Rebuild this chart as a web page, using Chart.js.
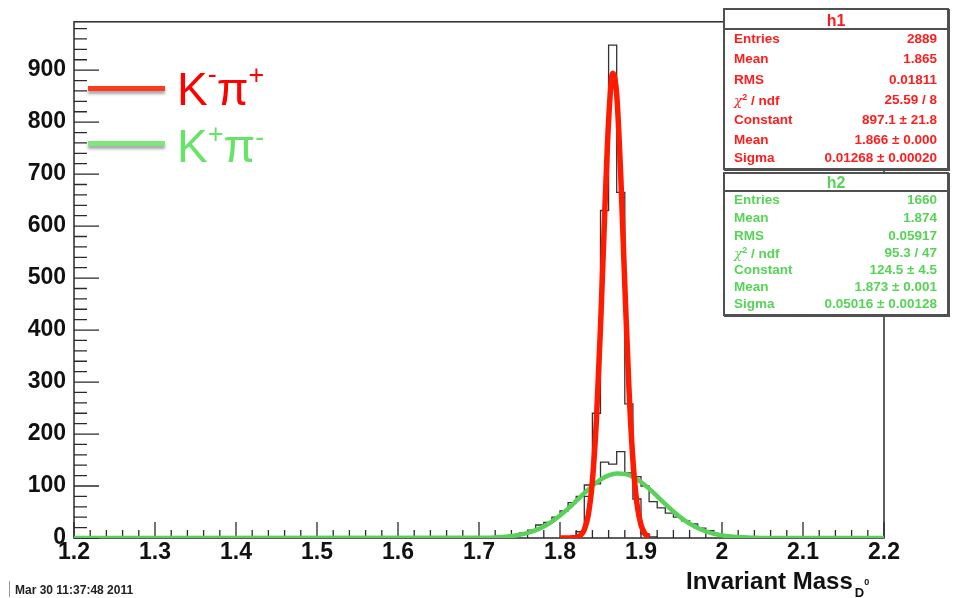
<!DOCTYPE html>
<html>
<head>
<meta charset="utf-8">
<script src="https://cdn.jsdelivr.net/npm/chart.js@4.4.1/dist/chart.umd.min.js"></script>
<style>
  body { margin: 0; background: #fff; }
  #wrap { position: relative; width: 954px; height: 598px; overflow: hidden; font-family: "Liberation Sans", Arial, sans-serif; }
  #c { position: absolute; left: 0; top: 0; }
  .stat { position: absolute; left: 723px; width: 226px; box-sizing: border-box; background: #fff; border: 2px solid #505050; box-shadow: 1px 1px 0 #505050; }
  .stat .sep { position: absolute; left: 0; right: 0; height: 2px; background: #505050; }
  .stat .ttl { position: absolute; left: 0; right: 0; text-align: center; font-weight: bold; font-size: 16px; line-height: 18px; }
  .stat .row { position: absolute; left: 9px; right: 10px; height: 18px; line-height: 18px; font-weight: bold; font-size: 13.5px; }
  .stat .row .v { position: absolute; right: 0; top: 0; }
  .stat sup { font-size: 9px; line-height: 0; }
  .chi { font-family: "DejaVu Serif", "Liberation Serif", serif; font-weight: normal; font-style: italic; }
  .red { color: #ff1c1c; }
  .grn { color: #55d455; }
  .legline { position: absolute; left: 88px; width: 77px; height: 5px; box-shadow: 0 3px 3px rgba(0,0,0,0.35); }
  .legtxt { position: absolute; left: 177px; font-size: 46px; line-height: 46px; white-space: nowrap; }
  .legtxt span.s { font-size: 27px; position: relative; }
  #date { position: absolute; left: 15px; top: 583px; font-weight: bold; font-size: 12px; line-height: 14px; color: #222; white-space: nowrap; }
  #bar { position: absolute; left: 9px; top: 581px; width: 1px; height: 16px; background: #999; }
  #xtitle { position: absolute; left: 686px; top: 569px; font-weight: bold; font-size: 24px; line-height: 24px; color: #111; white-space: nowrap; }
  #xtitle .sub { font-size: 13px; position: relative; top: 8px; margin-left: 2px; }
  #xtitle .sub .sp { font-size: 9px; position: relative; top: -12px; }
</style>
</head>
<body>
<div id="wrap">
  <canvas id="c" width="954" height="598"></canvas>

  <div class="legline" style="top:86px;background:#ff3a1c;"></div>
  <div class="legtxt" style="top:66px;color:#ff0000;">K<span class="s" style="top:-22px;">-</span>π<span class="s" style="top:-21px;">+</span></div>
  <div class="legline" style="top:141px;background:#7de67d;"></div>
  <div class="legtxt" style="top:123px;color:#66e466;">K<span class="s" style="top:-19px;">+</span>π<span class="s" style="top:-16px;">-</span></div>

  <div class="stat red" style="top:8px;height:162px;">
    <div class="ttl" style="top:2px;">h1</div>
    <div class="sep" style="top:18px;"></div>
    <div class="row" style="top:20px;">Entries<span class="v">2889</span></div>
    <div class="row" style="top:40px;">Mean<span class="v">1.865</span></div>
    <div class="row" style="top:61px;">RMS<span class="v">0.01811</span></div>
    <div class="row" style="top:81px;"><span class="chi">χ</span><sup>2</sup> / ndf<span class="v">25.59 / 8</span></div>
    <div class="row" style="top:101px;">Constant<span class="v">897.1 ± 21.8</span></div>
    <div class="row" style="top:121px;">Mean<span class="v">1.866 ± 0.000</span></div>
    <div class="row" style="top:139px;">Sigma<span class="v">0.01268 ± 0.00020</span></div>
  </div>

  <div class="stat grn" style="top:172px;height:144px;">
    <div class="ttl" style="top:0px;">h2</div>
    <div class="sep" style="top:16px;"></div>
    <div class="row" style="top:17px;">Entries<span class="v">1660</span></div>
    <div class="row" style="top:35px;">Mean<span class="v">1.874</span></div>
    <div class="row" style="top:53px;">RMS<span class="v">0.05917</span></div>
    <div class="row" style="top:70px;"><span class="chi">χ</span><sup>2</sup> / ndf<span class="v">95.3 / 47</span></div>
    <div class="row" style="top:87px;">Constant<span class="v">124.5 ± 4.5</span></div>
    <div class="row" style="top:104px;">Mean<span class="v">1.873 ± 0.001</span></div>
    <div class="row" style="top:121px;">Sigma<span class="v">0.05016 ± 0.00128</span></div>
  </div>

  <div id="bar"></div>
  <div id="date">Mar 30 11:37:48 2011</div>
  <div id="xtitle">Invariant Mass<span class="sub">D<span class="sp">0</span></span></div>
</div>

<script>
// ---- data ----
const binWidth = 0.01;

// h1 (K- pi+) histogram, bins starting at 1.81
const h1Start = 1.81;
const h1Counts = [2, 12, 80, 240, 630, 948, 665, 258, 75, 8, 2];

// h2 (K+ pi-) histogram, bins starting at 1.72
const h2Start = 1.72;
const h2Counts = [2, 4, 6, 10, 15, 25, 30, 40, 52, 68, 80, 102, 104, 146, 142, 166,
                  125, 118, 100, 70, 58, 48, 40, 33, 27, 19, 14, 8, 5, 4, 3, 2];

// red fit curve (h1)
const redFitX = [1.800, 1.805, 1.810, 1.815, 1.820, 1.825, 1.830, 1.835, 1.840, 1.845, 1.850, 1.855,
                 1.860, 1.865, 1.870, 1.875, 1.880, 1.885, 1.890, 1.895, 1.900, 1.905, 1.910];
const redFitY = [0, 0, 0.1, 0.3, 1.2, 4.8, 16, 45, 110, 228, 405, 616,
                 802, 894, 853, 697, 487, 292, 150, 66, 25, 8, 2];

// green fit curve (h2)
const greenFitX = [1.20, 1.70, 1.71, 1.72, 1.73, 1.74, 1.75, 1.76, 1.77, 1.78, 1.79, 1.80, 1.81,
                   1.82, 1.83, 1.84, 1.85, 1.86, 1.87, 1.88, 1.89, 1.90, 1.91, 1.92, 1.93, 1.94,
                   1.95, 1.96, 1.97, 1.98, 1.99, 2.00, 2.01, 2.02, 2.03, 2.04, 2.05, 2.20];
const greenFitY = [0, 0.3, 0.6, 1.2, 2.1, 3.7, 6.2, 9.8, 15.1, 22.3, 31.7, 43.2, 56.6,
                   71.2, 86.2, 100.3, 112.1, 120.4, 124.3, 123.3, 117.6, 107.7, 94.9, 80.3, 65.3, 51.0,
                   38.3, 27.7, 19.2, 12.8, 8.2, 5.1, 3.0, 1.7, 0.9, 0.5, 0.2, 0];

// axes
const xTickValues = [1.2, 1.3, 1.4, 1.5, 1.6, 1.7, 1.8, 1.9, 2.0, 2.1, 2.2];
const xTickLabels = ["1.2", "1.3", "1.4", "1.5", "1.6", "1.7", "1.8", "1.9", "2", "2.1", "2.2"];
const yTickValues = [0, 100, 200, 300, 400, 500, 600, 700, 800, 900];
const yTickLabels = ["0", "100", "200", "300", "400", "500", "600", "700", "800", "900"];
const xRange = [1.2, 2.2];
const yRange = [0, 993];

// ---- build ----
function histPoints(start, counts) {
  const pts = [{ x: start, y: 0 }];
  counts.forEach((c, i) => pts.push({ x: start + i * binWidth, y: c }));
  pts.push({ x: start + counts.length * binWidth, y: 0 });
  return pts;
}
const pairs = (xs, ys) => xs.map((x, i) => ({ x: x, y: ys[i] }));

const tickFont = { family: "'Liberation Sans', Arial, sans-serif", size: 23, weight: 'bold' };

const rootFrame = {
  id: 'rootFrame',
  beforeDatasetsDraw(chart) {
    const { ctx, chartArea: a, scales } = chart;
    const x = scales.x, y = scales.y;
    ctx.save();
    ctx.strokeStyle = '#2a2a2a';
    ctx.lineWidth = 1.5;
    ctx.strokeRect(a.left, a.top, a.right - a.left, a.bottom - a.top);
    ctx.lineWidth = 1.3;
    ctx.beginPath();
    for (let k = 0; k <= 50; k++) {
      const px = x.getPixelForValue(xRange[0] + k * 0.02);
      const len = (k % 5 === 0) ? 16 : 8;
      ctx.moveTo(px, a.bottom);
      ctx.lineTo(px, a.bottom - len);
    }
    for (let k = 0; k <= 49; k++) {
      const py = y.getPixelForValue(k * 20);
      const len = (k % 5 === 0) ? 25 : 13;
      ctx.moveTo(a.left, py);
      ctx.lineTo(a.left + len, py);
    }
    ctx.stroke();
    ctx.restore();
  }
};

new Chart(document.getElementById('c'), {
  type: 'line',
  data: {
    datasets: [
      { label: 'h1 fit', data: pairs(redFitX, redFitY), borderColor: '#ff1a00', borderWidth: 5.5,
        pointRadius: 0, cubicInterpolationMode: 'monotone', order: 0 },
      { label: 'h2 fit', data: pairs(greenFitX, greenFitY), borderColor: '#5ad25a', borderWidth: 4.5,
        pointRadius: 0, cubicInterpolationMode: 'monotone', order: 1 },
      { label: 'h1', data: histPoints(h1Start, h1Counts), borderColor: '#333333', borderWidth: 1.3,
        pointRadius: 0, stepped: 'before', order: 2 },
      { label: 'h2', data: histPoints(h2Start, h2Counts), borderColor: '#333333', borderWidth: 1.3,
        pointRadius: 0, stepped: 'before', order: 3 }
    ]
  },
  options: {
    responsive: false,
    animation: false,
    devicePixelRatio: 1,
    layout: { padding: { top: 21, right: 70, left: 0, bottom: 0 } },
    plugins: { legend: { display: false }, tooltip: { enabled: false } },
    scales: {
      x: {
        type: 'linear', min: xRange[0], max: xRange[1],
        grid: { display: false, drawTicks: false },
        border: { display: false },
        afterBuildTicks: s => { s.ticks = xTickValues.map(v => ({ value: v })); },
        afterFit: s => { s.height = 60; },
        ticks: { autoSkip: false, maxRotation: 0, minRotation: 0, padding: 1, color: '#111', font: tickFont,
                 callback: (v, i) => xTickLabels[i] }
      },
      y: {
        type: 'linear', min: yRange[0], max: yRange[1],
        grid: { display: false, drawTicks: false },
        border: { display: false },
        afterBuildTicks: s => { s.ticks = yTickValues.map(v => ({ value: v })); },
        afterFit: s => { s.width = 74; },
        ticks: { autoSkip: false, padding: 8, color: '#111', font: tickFont,
                 callback: (v, i) => yTickLabels[i] }
      }
    }
  },
  plugins: [rootFrame]
});
</script>
</body>
</html>
